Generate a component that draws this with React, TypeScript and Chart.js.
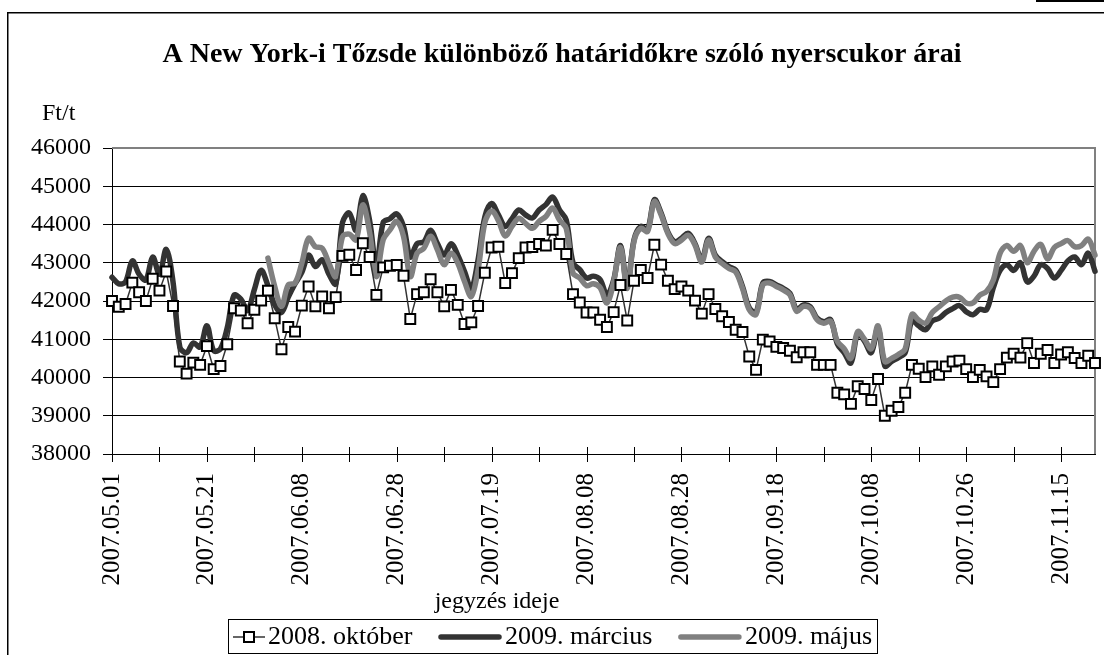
import React, { useEffect, useRef } from 'react';
import { Chart, registerables } from 'chart.js';

Chart.register(...registerables);

// Trading days (categories)
const dates: string[] = [
  '2007.05.01','2007.05.02','2007.05.03','2007.05.04','2007.05.07','2007.05.08','2007.05.09','2007.05.10','2007.05.11','2007.05.14',
  '2007.05.15','2007.05.16','2007.05.17','2007.05.18','2007.05.21','2007.05.22','2007.05.23','2007.05.24','2007.05.25','2007.05.28',
  '2007.05.29','2007.05.30','2007.05.31','2007.06.01','2007.06.04','2007.06.05','2007.06.06','2007.06.07','2007.06.08','2007.06.11',
  '2007.06.12','2007.06.13','2007.06.14','2007.06.15','2007.06.18','2007.06.19','2007.06.20','2007.06.21','2007.06.22','2007.06.25',
  '2007.06.26','2007.06.27','2007.06.28','2007.06.29','2007.07.02','2007.07.03','2007.07.05','2007.07.06','2007.07.09','2007.07.10',
  '2007.07.11','2007.07.12','2007.07.13','2007.07.16','2007.07.17','2007.07.18','2007.07.19','2007.07.20','2007.07.23','2007.07.24',
  '2007.07.25','2007.07.26','2007.07.27','2007.07.30','2007.07.31','2007.08.01','2007.08.02','2007.08.03','2007.08.06','2007.08.07',
  '2007.08.08','2007.08.09','2007.08.10','2007.08.13','2007.08.14','2007.08.15','2007.08.16','2007.08.17','2007.08.20','2007.08.21',
  '2007.08.22','2007.08.23','2007.08.24','2007.08.27','2007.08.28','2007.08.29','2007.08.30','2007.08.31','2007.09.04','2007.09.05',
  '2007.09.06','2007.09.07','2007.09.10','2007.09.11','2007.09.12','2007.09.13','2007.09.14','2007.09.17','2007.09.18','2007.09.19',
  '2007.09.20','2007.09.21','2007.09.24','2007.09.25','2007.09.26','2007.09.27','2007.09.28','2007.10.01','2007.10.02','2007.10.03',
  '2007.10.04','2007.10.05','2007.10.08','2007.10.09','2007.10.10','2007.10.11','2007.10.12','2007.10.15','2007.10.16','2007.10.17',
  '2007.10.18','2007.10.19','2007.10.22','2007.10.23','2007.10.24','2007.10.25','2007.10.26','2007.10.29','2007.10.30','2007.10.31',
  '2007.11.01','2007.11.02','2007.11.05','2007.11.06','2007.11.07','2007.11.08','2007.11.09','2007.11.12','2007.11.13','2007.11.14',
  '2007.11.15','2007.11.16','2007.11.19','2007.11.20','2007.11.21','2007.11.23',
];

const okt2008: number[] = [
  42000, 41850, 41920, 42480, 42230, 42000, 42580, 42270, 42770, 41870,
  40420, 40100, 40390, 40330, 40820, 40220, 40300, 40870, 41810, 41750,
  41420, 41770, 42010, 42270, 41550, 40740, 41320, 41200, 41880, 42380,
  41860, 42120, 41810, 42100, 43180, 43210, 42810, 43510, 43150, 42160,
  42880, 42920, 42940, 42660, 41530, 42180, 42230, 42570, 42230, 41860,
  42290, 41900, 41400, 41440, 41870, 42740, 43400, 43420, 42470, 42730,
  43120, 43400, 43410, 43490, 43450, 43860, 43490, 43230, 42180, 41960,
  41700, 41700, 41510, 41320, 41710, 42420, 41490, 42530, 42810, 42600,
  43470, 42950, 42530, 42310, 42380, 42270, 42010, 41670, 42180, 41790,
  41600, 41450, 41250, 41190, 40550, 40200, 40990, 40940, 40800, 40770,
  40700, 40530, 40660, 40660, 40330, 40330, 40330, 39600, 39560, 39310,
  39770, 39700, 39410, 39960, 39000, 39130, 39230, 39600, 40330, 40230,
  40010, 40290, 40070, 40290, 40420, 40440, 40220, 40010, 40200, 40030,
  39880, 40220, 40520, 40620, 40520, 40900, 40380, 40620, 40720, 40380,
  40600, 40660, 40510, 40380, 40570, 40380,
];

const mar2009: number[] = [
  42620, 42450, 42500, 43050, 42700, 42550, 43150, 42700, 43350, 42500,
  40800, 40650, 40900, 40800, 41350, 40700, 40750, 41300, 42150, 42050,
  41750, 42300, 42800, 42400, 41900, 41700, 42100, 42450, 42750, 43200,
  42900, 43080, 42700, 42450, 44050, 44300, 43850, 44750, 44100, 42900,
  44050, 44150, 44280, 43950, 43150, 43500, 43550, 43850, 43500, 43200,
  43500, 43200, 42770, 42330, 43080, 44200, 44550, 44250, 43950, 44150,
  44380, 44250, 44170, 44380, 44520, 44720, 44380, 44120, 43000, 42820,
  42600, 42650, 42560, 42160, 42550, 43450, 42380, 43600, 43950, 43870,
  44650, 44300, 43800, 43550, 43640, 43770, 43500, 43070, 43640, 43200,
  43030, 42900, 42810, 42380, 41820, 41700, 42470, 42510, 42420, 42330,
  42200, 41780, 41900, 41850, 41550, 41460, 41510, 40880, 40650, 40380,
  41150, 40950, 40650, 41300, 40300, 40420, 40520, 40650, 41500, 41350,
  41250, 41480, 41550, 41700, 41800, 41880, 41720, 41640, 41780, 41770,
  42350, 42800, 42950, 42800, 43000, 42500, 42650, 42950, 42850, 42600,
  42800, 43050, 43150, 42950, 43250, 42780,
];

const maj2009: (number | null)[] = [
  null, null, null, null, null, null, null, null, null, null,
  null, null, null, null, null, null, null, null, null, null,
  null, null, null, 43120, 42380, 41860, 42420, 42470, 42990, 43640,
  43420, 43380, 42990, 42640, 43680, 43750, 43600, 44510, 43800, 42640,
  43600, 43860, 44080, 43690, 42640, 43250, 43380, 43690, 43340, 42950,
  43250, 42990, 42510, 42120, 42820, 44050, 44350, 44100, 43700, 43950,
  44160, 44030, 43900, 44080, 44210, 44430, 44120, 43900, 42730, 42600,
  42400, 42450, 42350, 41950, 42500, 43400, 42330, 43560, 43900, 43820,
  44600, 44250, 43760, 43500, 43590, 43720, 43460, 43020, 43590, 43150,
  42980, 42850, 42760, 42330, 41770, 41650, 42420, 42470, 42380, 42290,
  42160, 41730, 41860, 41810, 41510, 41420, 41470, 40950, 40750, 40500,
  41200, 41000, 40750, 41350, 40420, 40500, 40600, 40750, 41650, 41500,
  41420, 41700, 41850, 42000, 42100, 42100, 41950, 41950, 42150, 42250,
  42550, 43250, 43450, 43300, 43450, 43000, 43300, 43480, 43100, 43400,
  43500, 43580, 43420, 43450, 43620, 43200,
];

const yTickValues: number[] = [38000, 39000, 40000, 41000, 42000, 43000, 44000, 45000, 46000];
const labelEvery = 14;
const tickEvery = 7;

const titleText = 'A New York-i Tőzsde különböző határidőkre szóló nyerscukor árai';
const yAxisTitle = 'Ft/t';
const xAxisTitle = 'jegyzés ideje';
const seriesNames: string[] = ['2008. október', '2009. március', '2009. május'];

const SERIF = '"Liberation Serif", "Times New Roman", serif';
const DARK = '#333333';
const GRAY = '#808080';

const decorPlugin = {
  id: 'decor',
  beforeDraw(chart: any) {
    const ctx = chart.ctx;
    ctx.save();
    ctx.fillStyle = '#ffffff';
    ctx.fillRect(0, 0, chart.width, chart.height);
    ctx.strokeStyle = '#000';
    ctx.lineWidth = 1.5;
    ctx.beginPath();
    ctx.moveTo(7.75, chart.height + 20);
    ctx.lineTo(7.75, 12.75);
    ctx.lineTo(chart.width + 20, 12.75);
    ctx.stroke();
    ctx.fillStyle = '#000';
    ctx.fillRect(1036, 0, 70, 2);
    ctx.restore();
  },
  beforeDatasetsDraw(chart: any) {
    const { ctx, chartArea: a } = chart;
    ctx.save();
    ctx.strokeStyle = GRAY;
    ctx.lineWidth = 2;
    ctx.beginPath();
    ctx.moveTo(a.left, a.top);
    ctx.lineTo(a.right, a.top);
    ctx.lineTo(a.right, a.bottom);
    ctx.stroke();
    ctx.restore();
  },
  afterDraw(chart: any) {
    const { ctx, chartArea: a } = chart;
    const xs = chart.scales.x;
    ctx.save();
    // crossing tick marks on category axis
    ctx.strokeStyle = '#000';
    ctx.lineWidth = 1;
    for (let i = 0; i < dates.length; i += tickEvery) {
      const x = Math.round(xs.getPixelForValue(i)) + 0.5;
      ctx.beginPath();
      ctx.moveTo(x, a.bottom - 7);
      ctx.lineTo(x, a.bottom + 8);
      ctx.stroke();
    }
    // title
    ctx.fillStyle = '#000';
    ctx.font = 'bold 28px ' + SERIF;
    ctx.textAlign = 'center';
    ctx.textBaseline = 'alphabetic';
    ctx.fillText(titleText, 562, 62);
    // axis titles
    ctx.font = '24px ' + SERIF;
    ctx.textAlign = 'left';
    ctx.fillText(yAxisTitle, 42, 120);
    ctx.textAlign = 'center';
    ctx.fillText(xAxisTitle, 497, 608);
    // legend
    ctx.font = '26px ' + SERIF;
    const boxLeft = 228;
    const boxRight = 877;
    const boxTop = 619;
    const boxH = 34;
    const symW = [32, 64, 64];
    const gapSym = 3;
    const pad = 5;
    const widths = seriesNames.map((n) => ctx.measureText(n).width);
    let used = pad * 2;
    widths.forEach((w, i) => { used += symW[i] + gapSym + w; });
    const gapItem = Math.max(4, (boxRight - boxLeft - used) / (seriesNames.length - 1));
    ctx.strokeStyle = '#000';
    ctx.lineWidth = 1;
    ctx.strokeRect(boxLeft + 0.5, boxTop + 0.5, boxRight - boxLeft, boxH);
    const midY = boxTop + boxH / 2 + 1;
    let cx = boxLeft + pad;
    seriesNames.forEach((name, i) => {
      const sw = symW[i];
      if (i === 0) {
        ctx.strokeStyle = DARK;
        ctx.lineWidth = 1.5;
        ctx.beginPath();
        ctx.moveTo(cx, midY);
        ctx.lineTo(cx + sw, midY);
        ctx.stroke();
        const sx = cx + sw / 2;
        ctx.fillStyle = '#fff';
        ctx.fillRect(sx - 5, midY - 5, 10, 10);
        ctx.strokeStyle = '#000';
        ctx.lineWidth = 2;
        ctx.strokeRect(sx - 5, midY - 5, 10, 10);
      } else {
        ctx.strokeStyle = i === 1 ? DARK : GRAY;
        ctx.lineWidth = 5.5;
        ctx.lineCap = 'round';
        ctx.beginPath();
        ctx.moveTo(cx + 3, midY);
        ctx.lineTo(cx + sw - 3, midY);
        ctx.stroke();
        ctx.lineCap = 'butt';
      }
      cx += sw + gapSym;
      ctx.fillStyle = '#000';
      ctx.textAlign = 'left';
      ctx.textBaseline = 'middle';
      ctx.fillText(name, cx, midY);
      cx += widths[i] + gapItem;
    });
    ctx.restore();
  },
};

export default function App() {
  const canvasRef = useRef<HTMLCanvasElement | null>(null);

  useEffect(() => {
    const canvas = canvasRef.current;
    if (!canvas) return;
    const chart = new Chart(canvas, {
      type: 'line',
      data: {
        labels: dates,
        datasets: [
          {
            label: seriesNames[0],
            data: okt2008,
            borderColor: DARK,
            borderWidth: 1.5,
            tension: 0,
            pointStyle: 'rect',
            pointRadius: 7,
            pointBorderWidth: 2,
            pointBackgroundColor: '#ffffff',
            pointBorderColor: '#000000',
            order: 0,
            clip: false,
          },
          {
            label: seriesNames[1],
            data: mar2009,
            borderColor: DARK,
            borderWidth: 5.5,
            tension: 0.35,
            pointRadius: 0,
            borderCapStyle: 'round',
            borderJoinStyle: 'round',
            order: 2,
            clip: false,
          },
          {
            label: seriesNames[2],
            data: maj2009,
            borderColor: GRAY,
            borderWidth: 5.5,
            tension: 0.35,
            pointRadius: 0,
            borderCapStyle: 'round',
            borderJoinStyle: 'round',
            order: 1,
            clip: false,
          },
        ],
      },
      options: {
        responsive: false,
        animation: false,
        events: [],
        layout: { padding: { left: 0, top: 148, right: 9, bottom: 61 } },
        plugins: {
          legend: { display: false },
          title: { display: false },
          tooltip: { enabled: false },
        },
        scales: {
          x: {
            type: 'category',
            offset: false,
            grid: { display: false, drawTicks: false, tickLength: 0 },
            border: { display: true, color: '#000', width: 1 },
            ticks: {
              autoSkip: false,
              maxRotation: 90,
              minRotation: 90,
              padding: 19,
              color: '#000',
              font: { family: SERIF, size: 25 },
              callback: (_v: any, i: number) => (i % labelEvery === 0 ? dates[i] : ''),
            },
            afterFit: (s: any) => {
              s.height = 140;
              s.paddingLeft = 0;
              s.paddingRight = 0;
            },
          },
          y: {
            min: 38000,
            max: 46000,
            afterBuildTicks: (s: any) => {
              s.ticks = yTickValues.map((v) => ({ value: v }));
            },
            grid: {
              color: (c: any) => (c.tick && c.tick.value === 46000 ? GRAY : '#000'),
              lineWidth: 1,
              tickLength: 9,
              tickColor: '#000',
              drawTicks: true,
            },
            border: { display: true, color: '#000', width: 1 },
            ticks: {
              padding: 12,
              color: '#000',
              font: { family: SERIF, size: 24 },
              callback: (v: any) => String(v),
            },
            afterFit: (s: any) => {
              s.width = 112;
            },
          },
        },
      },
      plugins: [decorPlugin],
    });
    return () => chart.destroy();
  }, []);

  return (
    <div style={{ position: 'fixed', left: 0, top: 0, width: 1104, height: 655, background: '#fff' }}>
      <canvas ref={canvasRef} width={1104} height={655} style={{ display: 'block' }} />
    </div>
  );
}
